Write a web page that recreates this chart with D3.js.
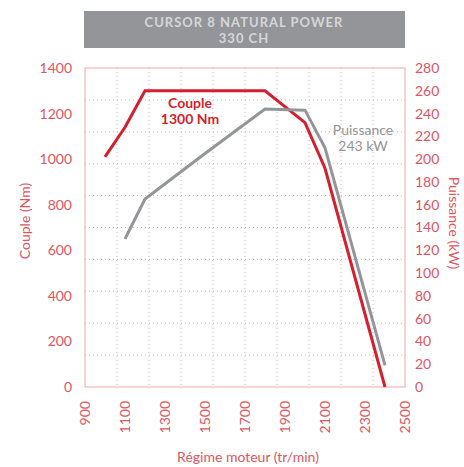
<!DOCTYPE html>
<html>
<head>
<meta charset="utf-8">
<script src="https://cdn.jsdelivr.net/npm/d3@7"></script>
<style>
  body { margin: 0; background: #fff; }
  svg text { font-family: Lato, "Open Sans", sans-serif; }
</style>
</head>
<body>
<div id="chart"></div>
<script>
// Data
var rpmTicks = [900, 1100, 1300, 1500, 1700, 1900, 2100, 2300, 2500];
var torqueTicks = [0, 200, 400, 600, 800, 1000, 1200, 1400];
var powerTicks = [0, 20, 40, 60, 80, 100, 120, 140, 160, 180, 200, 220, 240, 260, 280];

var torqueRpm = [1000, 1100, 1200, 1800, 2000, 2100, 2400];
var torqueNm  = [1010, 1140, 1300, 1300, 1160, 960, 0];

var powerRpm = [1100, 1200, 1500, 1800, 2000, 2100, 2400];
var powerKw  = [130, 165, 205, 244, 243, 210, 19];

var svgWidth = 464;
var svgHeight = 467;

var margin = { top: 68, right: 59, bottom: 80, left: 85 };
var width = svgWidth - margin.left - margin.right;
var height = svgHeight - margin.top - margin.bottom;

var red = "#d61f2c";
var grey = "#939598";
var axisRed = "#e2555f";
var gridPink = "#f2a5ab";

var svg = d3.select("#chart")
  .append("svg")
  .attr("width", svgWidth)
  .attr("height", svgHeight);

// Title banner
svg.append("rect")
  .attr("x", 84).attr("y", 11)
  .attr("width", 321).attr("height", 37)
  .attr("fill", grey);

svg.append("text")
  .attr("x", 244).attr("y", 27)
  .attr("text-anchor", "middle")
  .attr("font-family", "'Open Sans', Lato, sans-serif")
  .attr("font-size", 13).attr("font-weight", "bold")
  .attr("letter-spacing", 1)
  .attr("fill", "#d6d6d8")
  .text("CURSOR 8 NATURAL POWER");

svg.append("text")
  .attr("x", 244).attr("y", 43)
  .attr("text-anchor", "middle")
  .attr("font-family", "'Open Sans', Lato, sans-serif")
  .attr("font-size", 13).attr("font-weight", "bold")
  .attr("letter-spacing", 1)
  .attr("fill", "#d6d6d8")
  .text("330 CH");

var chartGroup = svg.append("g")
  .attr("transform", `translate(${margin.left}, ${margin.top})`);

// Scales
var xScale = d3.scaleLinear().domain([900, 2500]).range([0, width]);
var yLeft = d3.scaleLinear().domain([0, 1400]).range([height, 0]);
var yRight = d3.scaleLinear().domain([0, 280]).range([height, 0]);

// Dotted grid (10 divisions each way)
var gridX = d3.range(1, 10).map(i => 900 + i * 160);
var gridY = d3.range(1, 10).map(i => i * 140);

chartGroup.selectAll(".vgrid")
  .data(gridX)
  .enter()
  .append("line")
  .attr("x1", d => xScale(d)).attr("x2", d => xScale(d))
  .attr("y1", 0).attr("y2", height)
  .attr("stroke", gridPink)
  .attr("stroke-width", 1)
  .attr("stroke-dasharray", "1,3");

chartGroup.selectAll(".hgrid")
  .data(gridY)
  .enter()
  .append("line")
  .attr("x1", 0).attr("x2", width)
  .attr("y1", d => yLeft(d)).attr("y2", d => yLeft(d))
  .attr("stroke", gridPink)
  .attr("stroke-width", 1)
  .attr("stroke-dasharray", "1,3");

// Frame
chartGroup.append("rect")
  .attr("width", width).attr("height", height)
  .attr("fill", "none")
  .attr("stroke", gridPink)
  .attr("stroke-width", 1);

// Axes
var leftAxis = d3.axisLeft(yLeft).tickValues(torqueTicks).tickSize(0).tickPadding(13).tickFormat(d3.format("d"));
var rightAxis = d3.axisRight(yRight).tickValues(powerTicks).tickSize(0).tickPadding(10).tickFormat(d3.format("d"));
var bottomAxis = d3.axisBottom(xScale).tickValues(rpmTicks).tickSize(0).tickFormat(d3.format("d"));

var gl = chartGroup.append("g").call(leftAxis);
var gr = chartGroup.append("g").attr("transform", `translate(${width}, 0)`).call(rightAxis);
var gb = chartGroup.append("g").attr("transform", `translate(0, ${height})`).call(bottomAxis);

[gl, gr, gb].forEach(function(g) {
  g.select(".domain").remove();
  g.selectAll("text")
    .attr("fill", axisRed)
    .attr("font-size", 14)
    .attr("font-family", "Lato, 'Open Sans', sans-serif");
});

gb.selectAll("text")
  .attr("transform", "rotate(-90)")
  .attr("text-anchor", "end")
  .attr("x", -14)
  .attr("y", 0)
  .attr("dy", "0.35em");

// Lines
var torqueData = torqueRpm.map((r, i) => ({ rpm: r, v: torqueNm[i] }));
var powerData = powerRpm.map((r, i) => ({ rpm: r, v: powerKw[i] }));

var torqueLine = d3.line().x(d => xScale(d.rpm)).y(d => yLeft(d.v));
var powerLine = d3.line().x(d => xScale(d.rpm)).y(d => yRight(d.v));

chartGroup.append("path")
  .datum(torqueData)
  .attr("d", torqueLine)
  .attr("fill", "none")
  .attr("stroke", red)
  .attr("stroke-width", 3);

chartGroup.append("path")
  .datum(powerData)
  .attr("d", powerLine)
  .attr("fill", "none")
  .attr("stroke", grey)
  .attr("stroke-width", 3);

// Line labels
chartGroup.append("text")
  .attr("x", 105).attr("y", 40)
  .attr("text-anchor", "middle")
  .attr("font-size", 14).attr("font-weight", "bold")
  .attr("fill", red)
  .text("Couple");
chartGroup.append("text")
  .attr("x", 105).attr("y", 56)
  .attr("text-anchor", "middle")
  .attr("font-size", 14).attr("font-weight", "bold")
  .attr("fill", red)
  .text("1300 Nm");

chartGroup.append("text")
  .attr("x", 278).attr("y", 67)
  .attr("text-anchor", "middle")
  .attr("font-size", 14)
  .attr("fill", grey)
  .text("Puissance");
chartGroup.append("text")
  .attr("x", 278).attr("y", 83)
  .attr("text-anchor", "middle")
  .attr("font-size", 14)
  .attr("fill", grey)
  .text("243 kW");

// Axis titles
svg.append("text")
  .attr("transform", "translate(30, 221) rotate(-90)")
  .attr("text-anchor", "middle")
  .attr("font-size", 14)
  .attr("fill", axisRed)
  .text("Couple (Nm)");

svg.append("text")
  .attr("transform", "translate(449, 223) rotate(90)")
  .attr("text-anchor", "middle")
  .attr("font-size", 14)
  .attr("fill", axisRed)
  .text("Puissance (kW)");

svg.append("text")
  .attr("x", 248).attr("y", 462)
  .attr("text-anchor", "middle")
  .attr("font-size", 14)
  .attr("fill", axisRed)
  .text("Régime moteur (tr/min)");
</script>
</body>
</html>
